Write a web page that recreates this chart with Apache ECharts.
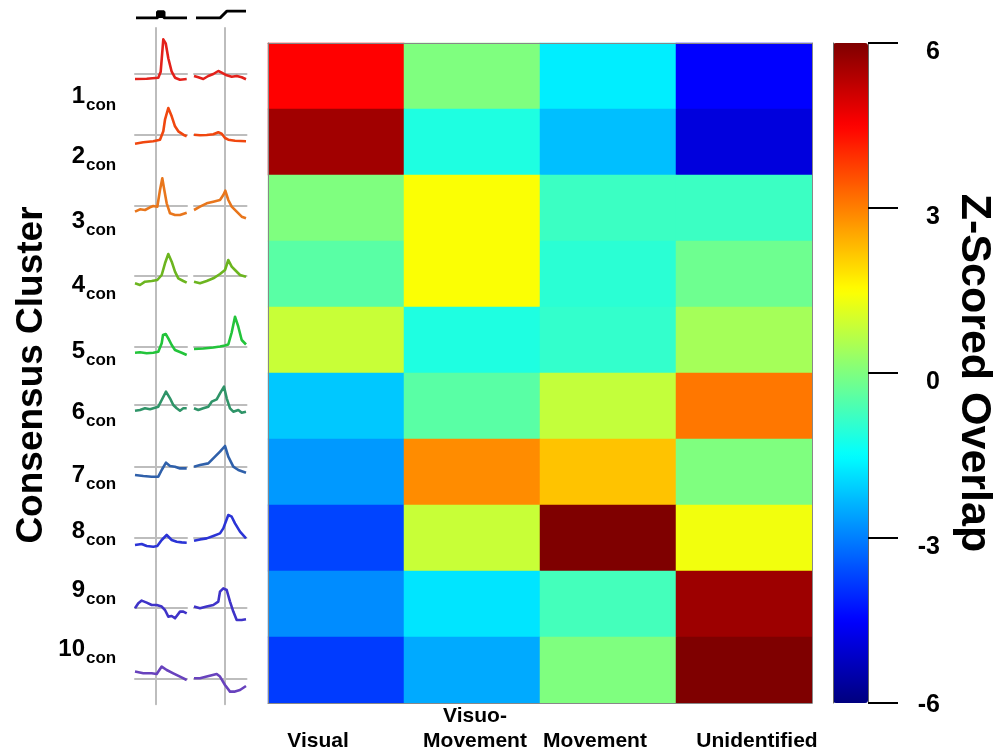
<!DOCTYPE html>
<html>
<head>
<meta charset="utf-8">
<script src="https://cdn.jsdelivr.net/npm/echarts@6/dist/echarts.min.js"></script>
<style>
  html, body { margin: 0; background: #fff; }
  #main { width: 1005px; height: 756px; }
</style>
</head>
<body>
<div id="main"></div>
<script>
// categories / rows
var categories = ['Visual', 'Visuo-\nMovement', 'Movement', 'Unidentified']
var clusters = ['1', '2', '3', '4', '5', '6', '7', '8', '9', '10']
var colorTicks = [-6, -3, 0, 3, 6]

// z-scored overlap, one row per consensus cluster
var overlap = [
    [4.5, 0, -1.7, -4.5],
    [5.6, -1.15, -2.25, -4.9],
    [0, 1.45, -0.8, -0.8],
    [-0.45, 1.45, -1.0, -0.2],
    [0.85, -1.15, -0.9, 0.45],
    [-2.15, -0.45, 0.8, 3.1],
    [-2.7, 2.85, 2.2, 0],
    [-3.7, 0.85, 6, 1.35],
    [-2.85, -1.8, -0.7, 5.65],
    [-3.8, -2.5, 0, 6]
]

// mean activity, aligned on target (ms, normalised)
var visualWave = [
    [[-210, -5], [-93, -4.7], [23, -3.7], [47, 2.3], [73, 34.7], [97, 30.7], [123, 15.7], [157, 2.3], [190, -3.7], [240, -5.7], [307, -5]],
    [[-210, -8.7], [-127, -7.3], [-27, -6.3], [40, -4.7], [73, 3.7], [90, 15.3], [123, 27], [157, 18.7], [190, 8.7], [223, 3.7], [273, 0.3], [307, -1.3]],
    [[-210, -5.7], [-160, -3.3], [-110, -4], [-60, -1.3], [-27, 0], [13, -0.7], [40, 16], [63, 27.7], [83, 16], [107, 2.7], [140, -7.3], [190, -9], [240, -9], [307, -6.7]],
    [[-210, -7.3], [-160, -9], [-110, -5.7], [-43, -5], [13, -4], [57, 1], [90, 12.7], [123, 22], [157, 14.3], [190, 4.3], [223, -2.3], [273, -5], [307, -6.7]],
    [[-210, -6.2], [-160, -5.8], [-93, -6.8], [-27, -6.2], [23, -5.2], [57, 3.2], [70, 11.5], [97, 12.5], [123, 8.2], [157, 1.5], [190, -3.5], [257, -6.2], [307, -8.5]],
    [[-210, -5.7], [-160, -5], [-110, -3.3], [-60, -4.3], [-10, -2.7], [23, -1.7], [57, 5], [100, 13.3], [140, 6.7], [173, 0], [207, -3.3], [240, -5.7], [273, -3.3], [307, -3.3]],
    [[-210, -8.3], [-127, -9.3], [-43, -10], [23, -10], [57, -3.3], [100, 4], [140, 0.7], [190, 0], [240, -1.7], [307, -1.7]],
    [[-210, -7.3], [-143, -6.3], [-93, -8.3], [-27, -9], [13, -8.3], [57, -2.3], [107, 2.7], [157, -2.3], [207, -4], [257, -4.7], [307, -5]],
    [[-210, -1], [-177, 4], [-143, 6.7], [-93, 4.7], [-43, 2.3], [7, 2.3], [57, 0.7], [90, -2.7], [123, -9.3], [157, -8.7], [190, -11], [240, -4.3], [273, -4.3], [307, -6]],
    [[-210, 6.7], [-127, 5], [-43, 5], [7, 4.3], [57, 11.7], [107, 8.3], [173, 5], [240, 1.7], [307, -1.7]]
]

// mean activity, aligned on saccade
var movementWave = [
    [[-310, -2], [-267, -3.3], [-217, -5], [-167, -2], [-117, 0], [-67, 3], [-33, 1.3], [17, -1.3], [67, -2.7], [117, -2], [167, -3.3], [210, -5.3]],
    [[-310, 0.3], [-250, -0.3], [-183, 0], [-117, 0.7], [-67, 2.7], [-33, 1.3], [0, -3], [33, -4.7], [100, -5.7], [210, -6.3]],
    [[-310, -4], [-250, -0.7], [-183, 2.7], [-117, 4.3], [-50, 6], [-17, 11], [3, 15.3], [33, 6], [67, -0.7], [117, -5.7], [167, -10.7], [210, -12.3]],
    [[-310, -5.7], [-250, -7.3], [-183, -5], [-117, -2.3], [-50, 2], [0, 6], [33, 16], [67, 9.3], [100, 6], [150, 1], [210, -0.7]],
    [[-310, -2.5], [-217, -2], [-117, -1], [-50, 0], [0, 1], [33, 2], [67, 14], [100, 29.8], [133, 19.8], [167, 6.5], [210, 2]],
    [[-310, -3.3], [-267, -5], [-217, -3.3], [-167, -1.7], [-133, 3.3], [-83, 5.7], [-50, 11.7], [-10, 18.3], [17, 6.7], [50, -3.3], [83, -6.7], [133, -5], [167, -7.7], [210, -6.7]],
    [[-310, 0], [-250, 1.7], [-167, 3.3], [-100, 10], [-50, 15], [0, 20.7], [33, 10], [83, 0], [133, -3.3], [210, -6]],
    [[-310, -3], [-250, -1.7], [-183, -0.7], [-117, 1.7], [-50, 4.3], [-17, 9.3], [33, 22.7], [67, 21], [100, 14.3], [150, 6], [210, -0.7]],
    [[-310, 0.7], [-250, -1], [-183, 0.7], [-117, 2.3], [-67, 5.7], [-50, 15.7], [-17, 19], [17, 17.3], [50, 5.7], [83, -4.3], [117, -12.7], [167, -12.7], [210, -12]],
    [[-310, 0], [-250, 0], [-183, 1.7], [-83, 4.3], [-50, 1.7], [0, -6.7], [50, -13.3], [100, -13.3], [150, -11.7], [210, -7.7]]
]

// task event traces drawn above the columns
var stimPulse = [[-200, 0], [15, 0], [15, 6.3], [80, 6.3], [80, 0], [310, 0]]
var saccadeStep = [[-290, 0], [-50, 0], [20, 7], [210, 7]]

// ---- styling / layout ----
var FONT = 'Liberation Sans, Arial, Helvetica, sans-serif'
var waveColors = ['#e3211b', '#f0470f', '#e8761c', '#6cb51f', '#22c43a', '#2f9468', '#2f60aa', '#2b34d6', '#3f33c8', '#6842bd']
var jet = ['#00007f', '#0000ff', '#007fff', '#00ffff', '#7fff7f', '#ffff00', '#ff7f00', '#ff0000', '#7f0000']
var rowBase = [74, 135, 206, 276, 346.5, 405, 466.7, 537.7, 607.3, 678.3]
var labelY = [96, 156, 221, 285, 351, 412, 475, 531, 590, 649]
var labelShift = [-18, 3, -13, 13]   // x offset of each category label from its column centre
var gray = '#bdbdbd'

var heatData = []
overlap.forEach(function (row, r) {
    row.forEach(function (v, c) {
        heatData.push([c, r, v])
    })
})

var labelFont = { color: '#000', fontFamily: FONT, fontWeight: 'bold', fontSize: 21, lineHeight: 25 }
var rich = {}
labelShift.forEach(function (d, i) {
    rich['c' + i] = Object.assign({ padding: d < 0 ? [0, -2 * d, 0, 0] : [0, 0, 0, 2 * d] }, labelFont)
})

var grids = []
var xAxes = []
var yAxes = []
var series = []

// 0: heatmap
grids.push({ left: 268, top: 43, width: 544, height: 660 })
xAxes.push({
    type: 'category', gridIndex: 0, data: categories, position: 'bottom',
    axisLine: { show: true, lineStyle: { color: '#888', width: 1 } },
    axisTick: { show: false },
    z: 5,
    axisLabel: Object.assign({
        interval: 0, margin: 51, verticalAlign: 'bottom',
        formatter: function (v, i) {
            return v.split('\n').map(function (s) { return '{c' + i + '|' + s + '}' }).join('\n')
        },
        rich: rich
    }, labelFont)
})
xAxes.push({
    type: 'category', gridIndex: 0, data: categories, position: 'top', z: 5,
    axisLine: { show: true, lineStyle: { color: '#888', width: 1 } },
    axisTick: { show: false }, axisLabel: { show: false }
})
yAxes.push({
    type: 'category', gridIndex: 0, data: clusters, inverse: true, z: 5,
    axisLine: { show: true, lineStyle: { color: '#888', width: 1 } },
    axisTick: { show: false }, axisLabel: { show: false }
})
yAxes.push({
    type: 'category', gridIndex: 0, data: clusters, inverse: true, position: 'right', z: 5,
    axisLine: { show: true, lineStyle: { color: '#888', width: 1 } },
    axisTick: { show: false }, axisLabel: { show: false }
})
series.push({
    type: 'heatmap', xAxisIndex: 0, yAxisIndex: 0, data: heatData,
    itemStyle: { borderWidth: 0 }, silent: true
})

// 1: colour bar axis
var tickFont = { color: '#000', fontFamily: FONT, fontWeight: 'bold', fontSize: 25 }
grids.push({ left: 833, top: 43, width: 35, height: 660 })
xAxes.push({ type: 'value', gridIndex: 1, min: 0, max: 1, show: false })
yAxes.push({
    type: 'value', gridIndex: 1, position: 'right', z: 10,
    min: colorTicks[0], max: colorTicks[colorTicks.length - 1], interval: colorTicks[1] - colorTicks[0],
    axisLine: { show: true, onZero: false, lineStyle: { color: '#666', width: 1 } },
    axisTick: { show: true, length: 30, lineStyle: { color: '#000', width: 2 } },
    splitLine: { show: false },
    axisLabel: Object.assign({
        align: 'right', margin: 72,
        formatter: function (v) {
            return v === colorTicks[0] ? '{e|' + v + '}' : '{t|' + v + '}'
        },
        rich: {
            t: Object.assign({ padding: [18, 0, 0, 0] }, tickFont),
            e: Object.assign({ padding: [4, 0, 0, 0] }, tickFont)
        }
    }, tickFont),
    name: 'Z-Scored Overlap', nameLocation: 'middle', nameRotate: -90, nameGap: 84,
    nameTextStyle: { color: '#000', fontFamily: FONT, fontWeight: 'bold', fontSize: 43 }
})
yAxes.push({
    type: 'value', gridIndex: 1, position: 'left', z: 10, min: -6, max: 6,
    axisLine: { show: true, onZero: false, lineStyle: { color: '#666', width: 1 } },
    axisTick: { show: false }, axisLabel: { show: false }, splitLine: { show: false }
})

// 2,3: event traces
function eventGrid(left, width, min, max, data, area) {
    var gi = grids.length
    grids.push({ left: left, top: 11, width: width, height: 7 })
    xAxes.push({ type: 'value', gridIndex: gi, min: min, max: max, show: false })
    yAxes.push({ type: 'value', gridIndex: gi, min: 0, max: 7, show: false })
    series.push({
        type: 'line', xAxisIndex: xAxes.length - 1, yAxisIndex: yAxes.length - 1,
        data: data, symbol: 'none', silent: true,
        lineStyle: { color: '#000', width: 3 },
        areaStyle: area ? { color: '#000', opacity: 1 } : null
    })
}
eventGrid(135, 52, -210, 310, stimPulse, true)
eventGrid(194, 52.5, -310, 215, saccadeStep, false)

// waveform panels
function waveGrid(left, width, min, max, base, data, color) {
    var gi = grids.length
    grids.push({ left: left, top: base - 46, width: width, height: 72 })
    xAxes.push({
        type: 'value', gridIndex: gi, min: min, max: max,
        axisLine: { show: true, onZero: true, lineStyle: { color: gray, width: 2 } },
        axisTick: { show: false }, axisLabel: { show: false }, splitLine: { show: false }
    })
    yAxes.push({
        type: 'value', gridIndex: gi, min: -26, max: 46,
        axisLine: { show: true, onZero: true, lineStyle: { color: gray, width: 2 } },
        axisTick: { show: false }, axisLabel: { show: false }, splitLine: { show: false }
    })
    series.push({
        type: 'line', xAxisIndex: xAxes.length - 1, yAxisIndex: yAxes.length - 1,
        data: data, symbol: 'none', silent: true, z: 5,
        lineStyle: { color: color, width: 2.6, join: 'round' }
    })
}
clusters.forEach(function (c, r) {
    waveGrid(135, 52, -210, 310, rowBase[r], visualWave[r], waveColors[r])
    waveGrid(194, 52.5, -310, 215, rowBase[r], movementWave[r], waveColors[r])
})

// axis title and row labels
var graphics = [{
    type: 'text', x: 32, y: 375, rotation: Math.PI / 2,
    style: { text: 'Consensus Cluster', fill: '#000', font: 'bold 37px ' + FONT, align: 'center', verticalAlign: 'middle' }
}]
clusters.forEach(function (c, r) {
    graphics.push({
        type: 'text', x: 85, y: labelY[r],
        style: { text: c, fill: '#000', font: 'bold 24px ' + FONT, align: 'right', verticalAlign: 'middle' }
    })
    graphics.push({
        type: 'text', x: 86, y: labelY[r] + 9,
        style: { text: 'con', fill: '#000', font: 'bold 17px ' + FONT, align: 'left', verticalAlign: 'middle' }
    })
})

var option = {
    backgroundColor: '#fff',
    animation: false,
    grid: grids,
    xAxis: xAxes,
    yAxis: yAxes,
    visualMap: {
        type: 'continuous', seriesIndex: 0,
        min: colorTicks[0], max: colorTicks[colorTicks.length - 1],
        calculable: false, orient: 'vertical',
        left: 833, top: 43, itemWidth: 35, itemHeight: 660, padding: 0,
        text: null, showLabel: false,
        inRange: { color: jet }
    },
    graphic: graphics,
    series: series
}

var myChart = echarts.init(document.getElementById('main'))
myChart.setOption(option)
</script>
</body>
</html>
